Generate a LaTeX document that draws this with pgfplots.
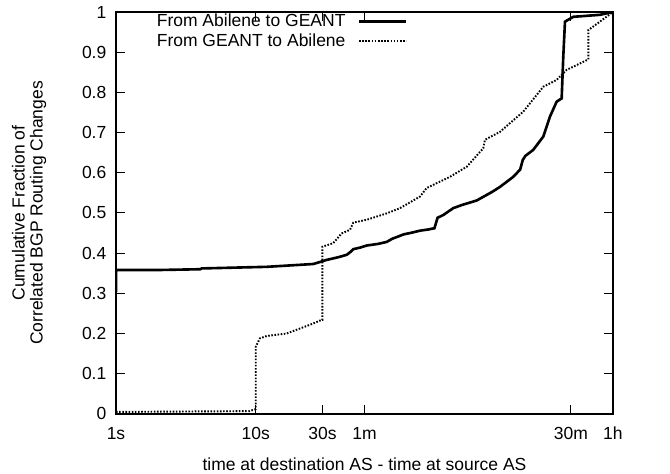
\documentclass[border=0pt]{standalone}
\usepackage{fontspec}
\setmainfont{Liberation Sans}
\usepackage{pgfplots}
\pgfplotsset{compat=1.18}

\begin{document}
\begin{tikzpicture}
% fix the page to the reference's frame (1px = 0.5714pt)
\path[use as bounding box] (-66.3pt,-34.3pt) rectangle (316.6pt,236.56pt);
\begin{axis}[
    scale only axis,
    width=284pt,
    height=229.7pt,
    xmode=log,
    xmin=1, xmax=3600,
    ymin=0, ymax=1,
    xtick={1,10,30,60,1800,3600},
    xticklabels={1s,10s,30s,1m,30m,1h},
    minor xtick={},
    ytick={0,0.1,0.2,0.3,0.4,0.5,0.6,0.7,0.8,0.9,1},
    yticklabels={0,0.1,0.2,0.3,0.4,0.5,0.6,0.7,0.8,0.9,1},
    tick align=inside,
    major tick length=5pt,
    every tick/.style={black, line width=0.6pt},
    axis line style={line width=0.8pt},
    xticklabel style={yshift=-4pt},
    yticklabel style={xshift=-2pt},
    xlabel={time at destination AS - time at source AS},
    xlabel style={at={(axis description cs:0.5,0)}, anchor=center, yshift=-28.6pt},
    ylabel={Cumulative Fraction of\\Correlated BGP Routing Changes},
    ylabel style={at={(axis description cs:-0.175,0.5)}, anchor=center, rotate=0,
                  align=center, font=\fontsize{10}{10.3}\selectfont},
    legend style={draw=none, fill=none, at={(axis description cs:0.598,1.0)},
                  anchor=north east, cells={anchor=east}, yshift=3pt,
                  font=\fontsize{10}{10.5}\selectfont, row sep=-1.5pt},
    legend plot pos=right,
    legend image code/.code={\path (0pt,0pt); \draw[#1] (5pt,0pt) -- (32pt,0pt);},
]
\addplot[black, line width=1.5pt] coordinates {
    (1,0.303) (1,0.358) (1.95,0.358) (4.0,0.360) (4.1,0.362) (12,0.366)
    (25.8,0.373) (28.8,0.378) (32,0.383) (35.9,0.387) (40,0.391) (44.8,0.396)
    (48,0.404) (50,0.410) (56,0.414) (62.2,0.419) (75,0.423) (86.5,0.428)
    (95,0.436) (102,0.440) (115,0.447) (127,0.450) (150,0.456) (172,0.459)
    (190,0.462) (200,0.488) (220,0.495) (259,0.512) (300,0.520) (381,0.531)
    (450,0.545) (500,0.554) (560,0.565) (697,0.590) (780,0.608) (815,0.632)
    (850,0.642) (968,0.657) (1142,0.690) (1276,0.740) (1424,0.777) (1546,0.785)
    (1588,0.889) (1633,0.976) (1872,0.988) (2904,0.993) (3600,1.0)
};
\addlegendentry{From Abilene to GEANT}
\addplot[black, line width=1.1pt, dash pattern=on 0.9pt off 0.9pt] coordinates {
    (1,0.005) (9,0.007) (10,0.012) (10,0.167) (10.7,0.188) (12,0.194)
    (16.6,0.200) (25.8,0.225) (29.6,0.234) (30,0.234) (30,0.416)
    (35.9,0.425) (41.1,0.449) (47.2,0.458) (49.9,0.476) (62.2,0.483)
    (86.5,0.499) (107.8,0.512) (150,0.541) (167,0.562) (245.5,0.590)
    (323.6,0.615) (424.6,0.661) (436.7,0.682) (560,0.702) (821,0.752)
    (1142,0.814) (1424,0.831) (1679,0.856) (2398,0.882) (2398,0.955)
    (2904,0.976) (3600,1.0)
};
\addlegendentry{From GEANT to Abilene}
\end{axis}
\end{tikzpicture}
\end{document}
